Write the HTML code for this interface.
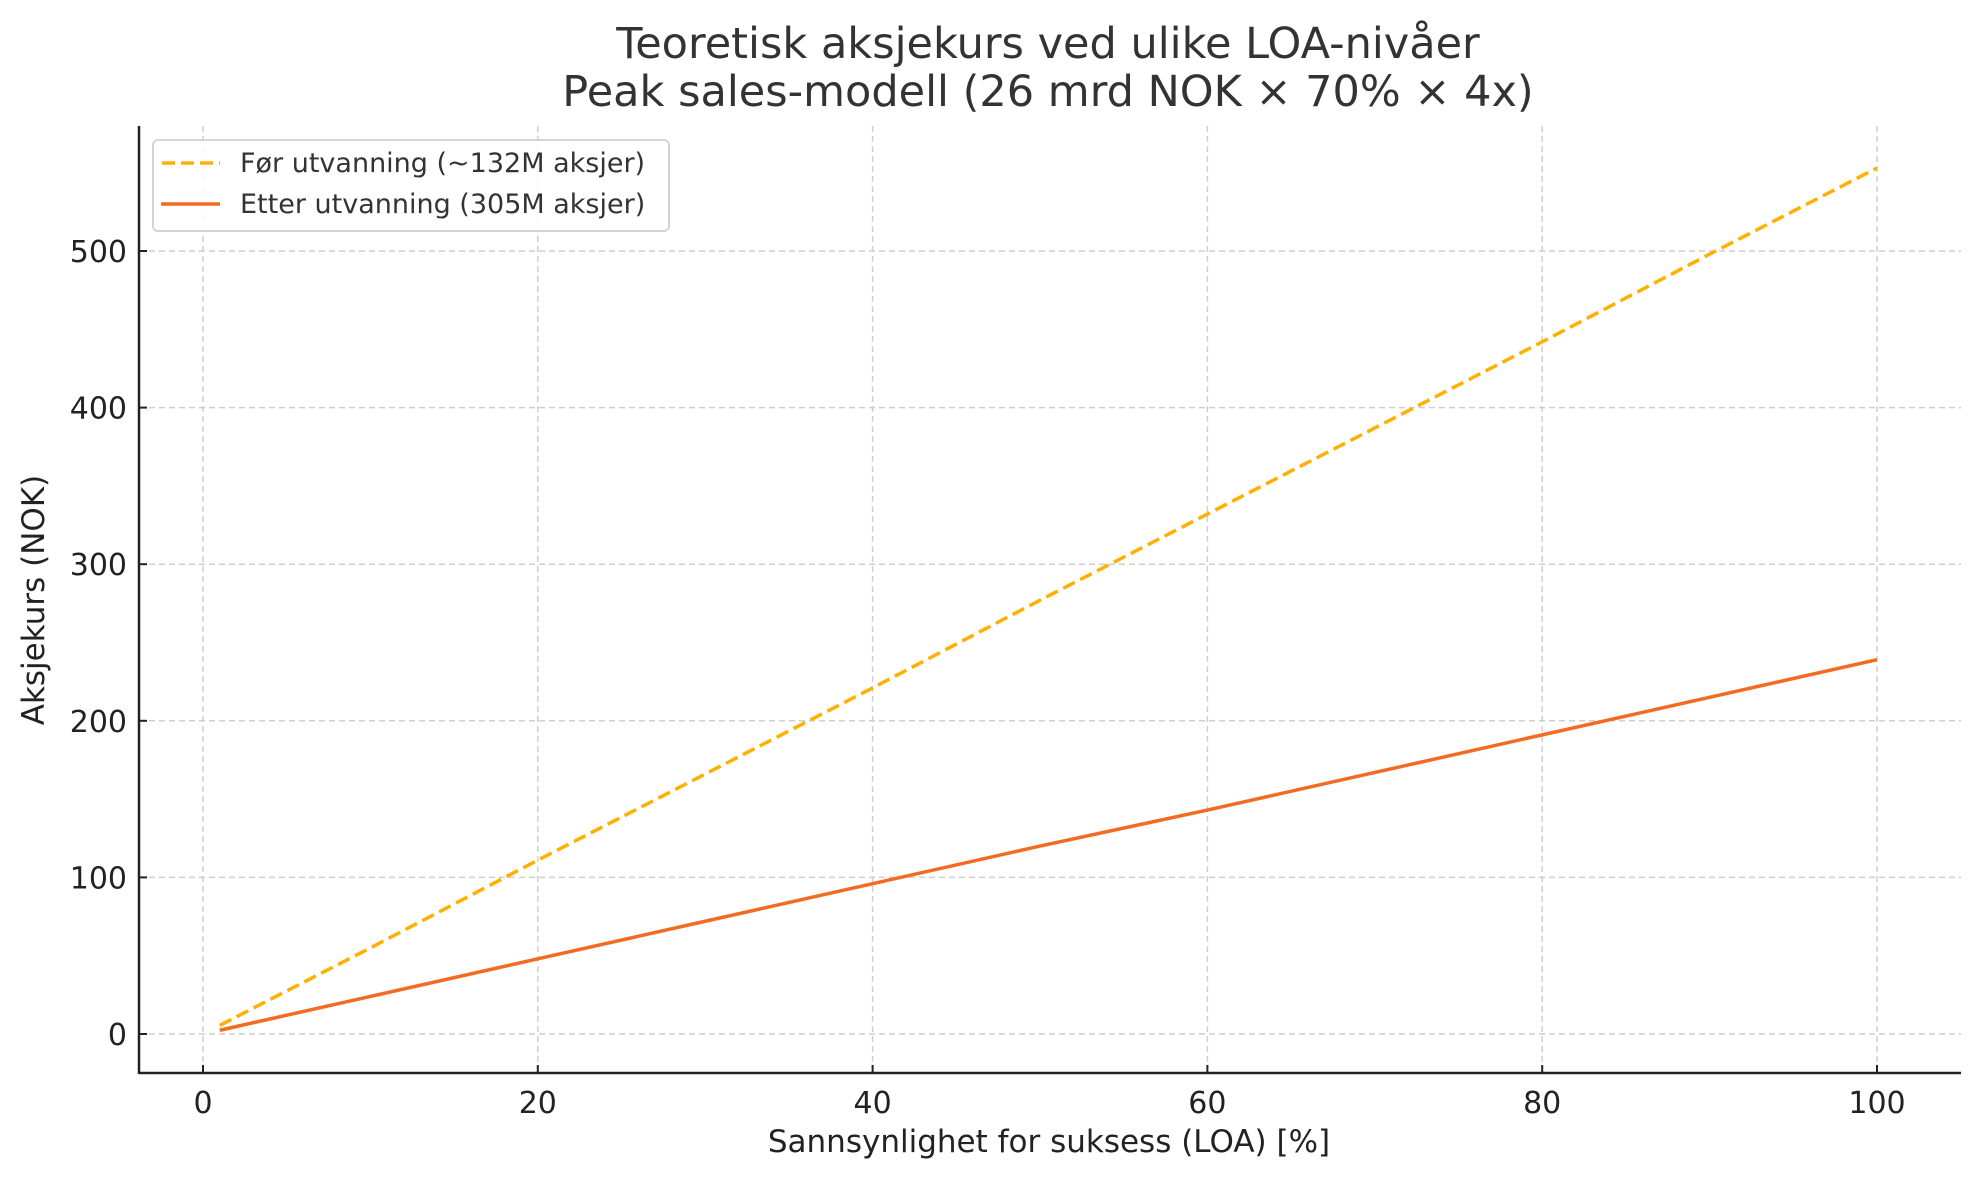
<!DOCTYPE html>
<html><head><meta charset="utf-8"><style>
html,body{margin:0;padding:0;background:#fff;}
svg{display:block;font-family:"DejaVu Sans","Liberation Sans",sans-serif;}
</style></head><body>
<svg id="chart" width="1979" height="1180" viewBox="0 0 1979 1180">
<rect width="1979" height="1180" fill="#fff"/>
<g id="grid"></g>
<g id="series"></g>
<g id="axes"></g>
<text x="1048" y="58" text-anchor="middle" font-size="43" fill="#333">Teoretisk aksjekurs ved ulike LOA-nivåer</text>
<text x="1048" y="106" text-anchor="middle" font-size="43" fill="#333">Peak sales-modell (26 mrd NOK × 70% × 4x)</text>
<text x="1049" y="1152" text-anchor="middle" font-size="31" fill="#222">Sannsynlighet for suksess (LOA) [%]</text>
<text transform="translate(44,600) rotate(-90)" text-anchor="middle" font-size="31" fill="#222">Aksjekurs (NOK)</text>
<g>
<rect x="153" y="140" width="516" height="91" rx="5" fill="#fff" fill-opacity="0.85" stroke="#d4d4d4" stroke-width="2"/>
<line x1="162" y1="163" x2="220" y2="163" stroke="#FFB000" stroke-width="3.5" stroke-dasharray="13,6"/>
<text x="240" y="172" font-size="27" fill="#333">Før utvanning (~132M aksjer)</text>
<line x1="161" y1="204" x2="220" y2="204" stroke="#F26B21" stroke-width="3.5"/>
<text x="240" y="213" font-size="27" fill="#333">Etter utvanning (305M aksjer)</text>
</g>
</svg>
<script>
const loa = [1,10,20,30,40,50,60,70,80,90,100];
const priceBefore = [5.5,55,111,166,221,277,332,387,442,498,553];
const priceAfter = [2.4,24,48,72,96,120,143,167,191,215,239];
const xTicks = [0,20,40,60,80,100];
const yTicks = [0,100,200,300,400,500];

const NS="http://www.w3.org/2000/svg";
const L=139,R=1961,T=126,B=1073;
const X0=203,X100=1877,Y0=1034,Y500=251;
function xs(v){return X0+(X100-X0)*v/100;}
function ys(v){return Y0+(Y500-Y0)*v/500;}
function mk(tag,attrs,parent){const e=document.createElementNS(NS,tag);for(const k in attrs)e.setAttribute(k,attrs[k]);parent.appendChild(e);return e;}
const grid=document.getElementById('grid'),axes=document.getElementById('axes'),series=document.getElementById('series');
xTicks.forEach(t=>{
  const g=mk('line',{x1:xs(t),x2:xs(t),y1:T,y2:B,stroke:'#cfcfcf','stroke-width':1.5,'stroke-dasharray':'6,4'},grid);
  
  
  const tk=mk('line',{x1:xs(t),x2:xs(t),y1:B,y2:B-8,stroke:'#222','stroke-width':2},axes);
  
  
  const lb=mk('text',{x:xs(t),y:B+40,'text-anchor':'middle','font-size':30,fill:'#222'},axes);
  lb.textContent=t;
  
  
});
yTicks.forEach(t=>{
  const g=mk('line',{x1:L,x2:R,y1:ys(t),y2:ys(t),stroke:'#cfcfcf','stroke-width':1.5,'stroke-dasharray':'6,4'},grid);
  
  
  const tk=mk('line',{x1:L,x2:L+8,y1:ys(t),y2:ys(t),stroke:'#222','stroke-width':2},axes);
  
  
  const lb=mk('text',{x:L-12,y:ys(t)+11,'text-anchor':'end','font-size':30,fill:'#222'},axes);
  lb.textContent=t;
  
  
});
const ax=mk('line',{x1:L,x2:L,y1:T,y2:B+1,stroke:'#222','stroke-width':2.5},axes);


const bx=mk('line',{x1:L,x2:R,y1:B,y2:B,stroke:'#222','stroke-width':2.5},axes);


function pts(arr){return loa.map((v,i)=>xs(v)+','+ys(arr[i])).join(' ');}
const lb=mk('polyline',{points:pts(priceBefore),fill:'none',stroke:'#FFB000','stroke-width':3.5,'stroke-dasharray':'13,6'},series);


const la=mk('polyline',{points:pts(priceAfter),fill:'none',stroke:'#F26B21','stroke-width':3.5},series);


</script>
</body></html>
